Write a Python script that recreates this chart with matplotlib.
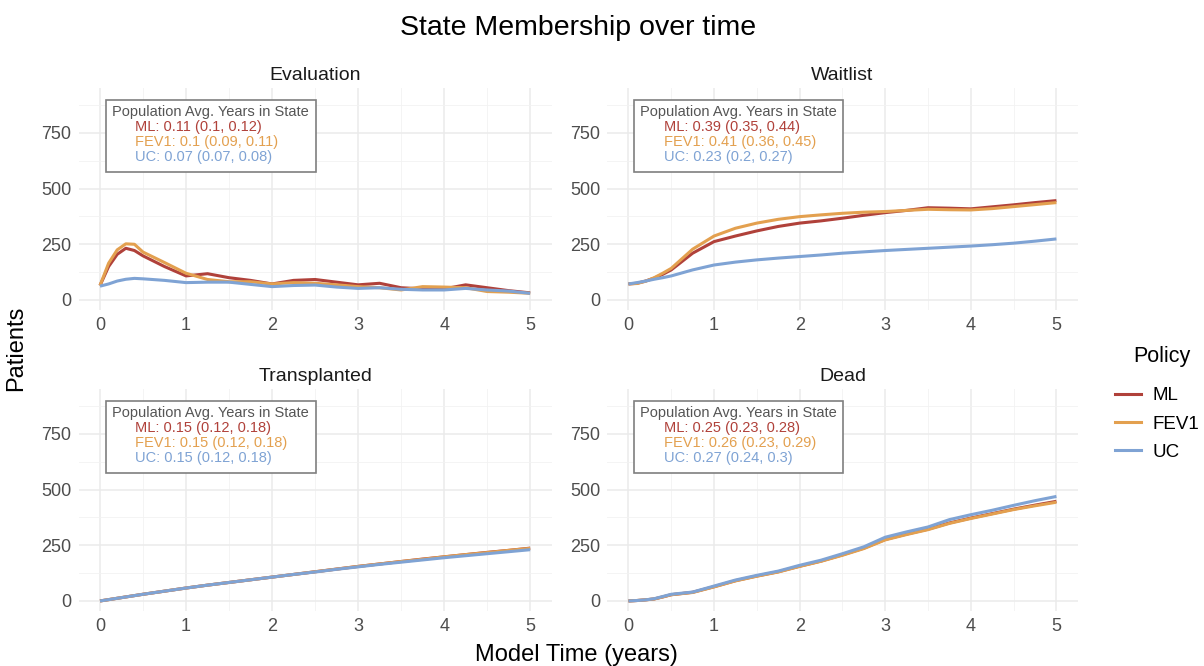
"""Facet chart of state membership over model time for three policies."""

import matplotlib
matplotlib.use("Agg")
import matplotlib.pyplot as plt
from matplotlib.patches import Rectangle
from matplotlib.lines import Line2D

plt.rcParams['font.family'] = ['Liberation Sans', 'DejaVu Sans']

# time grid (years) the values were read at
t = [0, 0.1, 0.2, 0.3, 0.4, 0.5, 0.75, 1.0, 1.25, 1.5, 1.75, 2.0, 2.25, 2.5,
     2.75, 3.0, 3.25, 3.5, 3.75, 4.0, 4.25, 4.5, 4.75, 5.0]

policies = ["ML", "FEV1", "UC"]
colors = {"ML": "#B0413A", "FEV1": "#E3A04F", "UC": "#7FA3D4"}
states = ["Evaluation", "Waitlist", "Transplanted", "Dead"]

eval_ml = [65, 150, 205, 232, 222, 198, 150, 108, 118, 100, 88, 72, 88, 92,
           80, 68, 75, 55, 50, 50, 68, 55, 42, 32]
eval_fev1 = [65, 165, 225, 252, 250, 215, 168, 120, 92, 82, 82, 72, 78, 75,
             68, 60, 55, 45, 60, 58, 55, 38, 35, 30]
eval_uc = [62, 72, 85, 93, 97, 95, 88, 78, 80, 80, 70, 60, 65, 67,
           58, 52, 55, 48, 45, 45, 52, 45, 40, 30]

wait_ml = [72, 75, 85, 98, 115, 135, 210, 262, 287, 310, 330, 345, 355, 367,
           380, 392, 402, 414, 412, 409, 418, 427, 437, 446]
wait_fev1 = [72, 74, 84, 100, 120, 142, 228, 287, 322, 345, 362, 374, 382, 389,
             394, 397, 402, 407, 405, 404, 410, 419, 428, 437]
wait_uc = [72, 78, 85, 93, 100, 108, 135, 157, 170, 180, 188, 195, 202, 210,
           216, 222, 227, 232, 237, 242, 248, 255, 264, 274]

trans_ml = [0, 6, 12, 18, 24, 30, 44, 58, 71, 83, 95, 107, 119, 131,
            143, 155, 166, 177, 188, 198, 208, 218, 227, 237]
trans_fev1 = [0, 6, 12, 18, 24, 30, 44, 58, 71, 83, 95, 107, 119, 131,
              143, 155, 166, 177, 187, 198, 208, 217, 227, 236]
trans_uc = [0, 6, 12, 18, 24, 30, 44, 58, 71, 83, 95, 107, 119, 130,
            142, 153, 164, 174, 184, 194, 203, 212, 221, 230]

dead_ml = [0, 2, 5, 9, 18, 28, 39, 64, 91, 112, 131, 156, 179, 207,
           237, 276, 300, 322, 350, 372, 392, 412, 430, 447]
dead_fev1 = [0, 2, 5, 9, 18, 28, 38, 63, 90, 111, 130, 155, 178, 205,
             235, 274, 298, 320, 348, 370, 390, 410, 427, 443]
dead_uc = [0, 2, 5, 10, 20, 30, 40, 67, 94, 115, 134, 160, 183, 212,
           243, 286, 310, 332, 365, 387, 407, 429, 450, 469]

series = {
    "Evaluation": [eval_ml, eval_fev1, eval_uc],
    "Waitlist": [wait_ml, wait_fev1, wait_uc],
    "Transplanted": [trans_ml, trans_fev1, trans_uc],
    "Dead": [dead_ml, dead_fev1, dead_uc],
}

# avg years in state: mean (lo, hi)
avg_years = {
    "Evaluation": ["0.11 (0.1, 0.12)", "0.1 (0.09, 0.11)", "0.07 (0.07, 0.08)"],
    "Waitlist": ["0.39 (0.35, 0.44)", "0.41 (0.36, 0.45)", "0.23 (0.2, 0.27)"],
    "Transplanted": ["0.15 (0.12, 0.18)", "0.15 (0.12, 0.18)", "0.15 (0.12, 0.18)"],
    "Dead": ["0.25 (0.23, 0.28)", "0.26 (0.23, 0.29)", "0.27 (0.24, 0.3)"],
}

fig = plt.figure(figsize=(12.04, 6.66), dpi=100)

panel_pos = [
    [0.0652, 0.5345, 0.393, 0.3333],
    [0.5042, 0.5345, 0.391, 0.3333],
    [0.0652, 0.0826, 0.393, 0.3333],
    [0.5042, 0.0826, 0.391, 0.3333],
]

for state, pos in zip(states, panel_pos):
    ax = fig.add_axes(pos)
    for pol, vals in zip(policies, series[state]):
        ax.plot(t, vals, color=colors[pol], lw=2.2, solid_capstyle="butt")

    ax.set_xlim(-0.25, 5.25)
    ax.set_ylim(-45, 951)
    ax.set_xticks(range(6))
    ax.set_xticks([0.5, 1.5, 2.5, 3.5, 4.5], minor=True)
    ax.set_yticks([0, 250, 500, 750])
    ax.set_yticks([125, 375, 625, 875], minor=True)
    ax.grid(which="major", color="#EBEBEB", lw=1.1)
    ax.grid(which="minor", color="#F2F2F2", lw=0.6)
    ax.set_axisbelow(True)
    for sp in ax.spines.values():
        sp.set_visible(False)
    ax.tick_params(which="both", length=0, labelsize=13, colors="#4D4D4D", pad=5)
    ax.set_title(state, fontsize=14, color="#1A1A1A", pad=6)

    # annotation box with average years in state
    ax.add_patch(Rectangle((0.058, 0.622), 0.444, 0.324, transform=ax.transAxes,
                           facecolor="white", edgecolor="#7F7F7F", lw=1.2, zorder=5))
    ax.text(0.071, 0.892, "Population Avg. Years in State", transform=ax.transAxes,
            fontsize=10.5, color="#555555", va="center", ha="left", zorder=6)
    for i, pol in enumerate(policies):
        ax.text(0.12, 0.824 - i * 0.0675, f"{pol}: {avg_years[state][i]}",
                transform=ax.transAxes, fontsize=10.5, color=colors[pol],
                va="center", ha="left", zorder=6)

fig.text(0.48, 0.958, "State Membership over time", ha="center", va="center", fontsize=20.5)
fig.text(0.479, 0.017, "Model Time (years)", ha="center", va="center", fontsize=17)
fig.text(0.013, 0.477, "Patients", ha="center", va="center", rotation=90, fontsize=17)

# legend
fig.text(0.941, 0.464, "Policy", ha="left", va="center", fontsize=15.5)
handles = [Line2D([], [], color=colors[p], lw=2.2) for p in policies]
fig.legend(handles, policies, loc="center left", bbox_to_anchor=(0.926, 0.3634),
           frameon=False, fontsize=13.5, handlelength=1.39, handletextpad=0.64,
           labelspacing=0.6, borderpad=0, borderaxespad=0)

fig.savefig("out.png", dpi=100)
